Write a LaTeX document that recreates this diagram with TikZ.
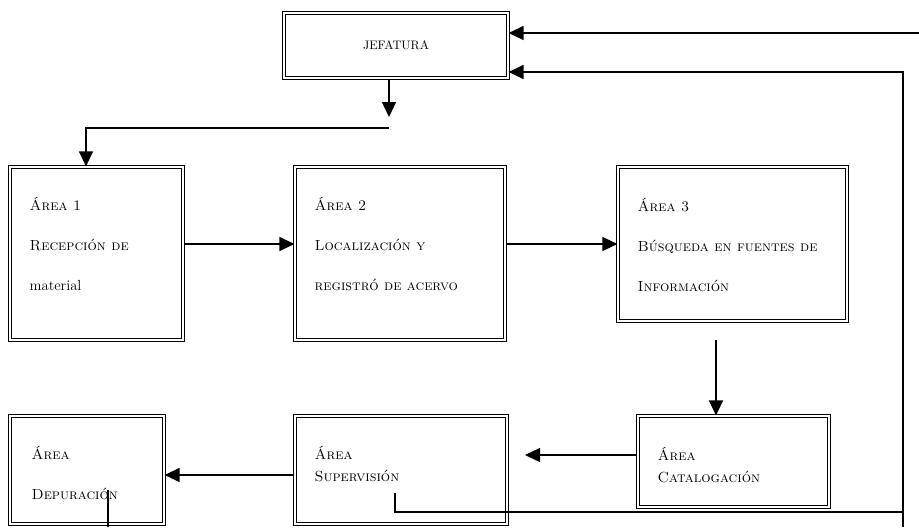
\documentclass[tikz,border=0pt]{standalone}
\usetikzlibrary{calc, arrows.meta}
\tikzset{
    areabox/.style={draw, double, double distance=2pt, line width=1pt,
        inner sep=0pt},
    areatxt/.style={anchor=base west, align=left, inner sep=0pt,
        font=\fontsize{12.5}{34}\selectfont},
    shorttxt/.style={areatxt, font=\fontsize{12.5}{18.8}\selectfont},
    flow/.style={line width=1.1pt, -{Triangle[length=0.45cm, width=0.42cm]}},
    link/.style={line width=1.1pt},
}

\begin{document}
\begin{tikzpicture}[x=0.03cm, y=-0.03cm]
    \useasboundingbox (0, 0) rectangle (919, 527);
    % boxes
    \node[areabox, minimum width=6.72cm, minimum height=1.95cm] (jef) at (396, 45.5)
        {\fontsize{10.5}{12}\selectfont\raisebox{-0.25cm}{JEFATURA}};
    \node[areabox, minimum width=5.19cm, minimum height=5.19cm] (a1) at (96.5, 253.5) {};
    \node[areabox, minimum width=6.3cm, minimum height=5.19cm] (a2) at (400, 253.5) {};
    \node[areabox, minimum width=6.87cm, minimum height=4.62cm] (a3) at (732.5, 244) {};
    \node[areabox, minimum width=5.73cm, minimum height=2.73cm] (cat) at (733.5, 461.5) {};
    \node[areabox, minimum width=6.36cm, minimum height=3.24cm] (sup) at (401, 470) {};
    \node[areabox, minimum width=4.62cm, minimum height=3.24cm] (dep) at (87, 470) {};
    % texts (base = last line)
    \node[areatxt] (a1txt) at ($(a1.north west)+(20, 124)$)
        {\textsc{Área 1}\\ \textsc{Recepción de}\\ material};
    \node[areatxt] (a2txt) at ($(a2.north west)+(20, 124)$)
        {\textsc{Área 2}\\ \textsc{Localización y}\\ \textsc{registró de acervo}};
    \node[areatxt] (a3txt) at ($(a3.north west)+(20, 125)$)
        {\textsc{Área 3}\\ \textsc{Búsqueda en fuentes de}\\ \textsc{Información}};
    \node[shorttxt] (cattxt) at ($(cat.north west)+(20, 67)$)
        {\textsc{Área}\\ \textsc{Catalogación}};
    \node[shorttxt] (suptxt) at ($(sup.north west)+(20, 66)$)
        {\textsc{Área}\\ \textsc{Supervisión}};
    \node[areatxt] (deptxt) at ($(dep.north west)+(22, 84)$)
        {\textsc{Área}\\ \textsc{Depuración}};
    % connectors
    \coordinate (jdown) at (389, 117);
    \coordinate (split) at (389, 128);
    \coordinate (a1in) at (86, 128);
    \draw[flow] (jdown |- jef.south) -- (jdown);
    \draw[flow] (split) -- (a1in) -- (a1in |- a1.north);
    \draw[flow] (a1.east |- a3.west) -- (a2.west |- a3.west);
    \draw[flow] (a2.east |- a3.west) -- (a3.west);
    \coordinate (catin) at (716, 340);
    \draw[flow] (catin) -- (catin |- cat.north);
    \coordinate (supin) at (525, 455);
    \draw[flow] (cat.west |- supin) -- (supin);
    \draw[flow] ($(sup.west)+(0, 5)$) -- ($(dep.east)+(0, 5)$);
    % return lines to JEFATURA
    \coordinate (supout) at (395, 493);
    \coordinate (join) at (903, 512);
    \coordinate (retB) at (903, 527);
    \coordinate (retA) at (919, 33);
    \coordinate (depout) at (108, 490);
    \coordinate (depend) at (108, 527);
    \draw[link] (supout) |- (join);
    \draw[flow] (retB) |- ($(jef.east)+(0, 26.5)$);
    \draw[flow] (retA) -- (retA -| jef.east);
    \draw[link] (depout) -- (depend);
\end{tikzpicture}
\end{document}
